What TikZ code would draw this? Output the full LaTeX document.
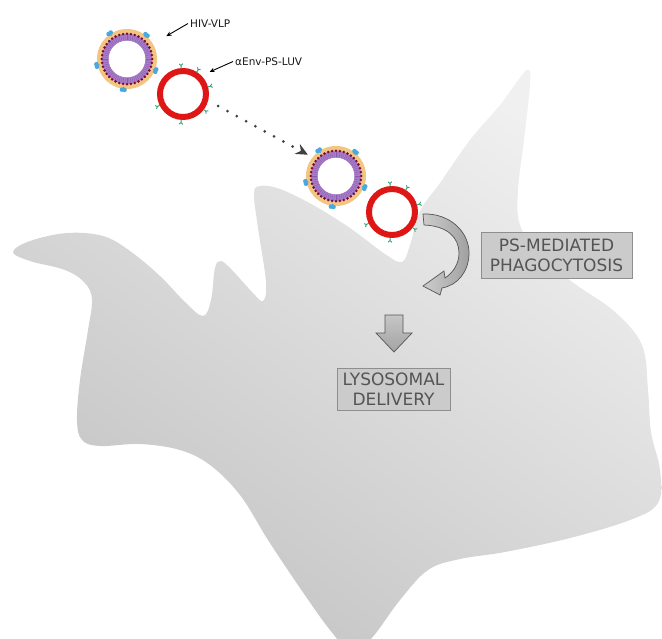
\documentclass[tikz,border=0pt]{standalone}
\usepackage{fontspec}
\setmainfont{DejaVu Sans}
\usepackage{tikz}
\usetikzlibrary{arrows.meta}

\definecolor{cellLight}{HTML}{F0F0F0}
\definecolor{cellDark}{HTML}{C3C3C3}
\definecolor{halo}{HTML}{F2C581}
\definecolor{lipid}{HTML}{A97FCB}
\definecolor{lipidDark}{HTML}{8A5CAE}
\definecolor{bead}{HTML}{7A0A2E}
\definecolor{envKnob}{HTML}{4AA7E0}
\definecolor{luvRed}{HTML}{DE1616}
\definecolor{antibody}{HTML}{2E9E72}
\definecolor{boxFill}{HTML}{CBCBCB}
\definecolor{boxLine}{HTML}{8E8E8E}
\definecolor{boxText}{HTML}{545454}
\definecolor{arrowLine}{HTML}{555555}

\begin{document}
\begin{tikzpicture}[x=1pt,y=-1pt,
    cell/.style={top color=cellLight,bottom color=cellDark,shading angle=-35},
    vlp/.style={circle,minimum size=60pt,inner sep=0pt,fill=halo},
    luv/.style={circle,minimum size=46pt,inner sep=0pt,draw=luvRed,line width=6pt,fill=white},
    vestag/.style={inner sep=2pt,anchor=west,text=black!90,font=\fontsize{10.5}{12}\selectfont},
    pointer/.style={-{Stealth[length=5pt,width=4.5pt]},line width=0.9pt},
    stage/.style={draw=boxLine,fill=boxFill,text=boxText,align=center,inner sep=0pt,font=\fontsize{17}{20}\selectfont},
    dotline/.style={line width=3pt,line cap=round,dash pattern=on 0pt off 10.6pt,draw=black!75,-{Stealth[length=12pt,width=11pt,inset=4pt]}},
    bigarrow/.style={draw=arrowLine,line width=0.7pt,top color=gray!45,bottom color=gray!72}]

    \useasboundingbox (0,0) rectangle (662,638);
    \clip (0,0) rectangle (662,638);

    \shade[cell] plot[smooth cycle,tension=0.6] coordinates {
        (13,252) (30,241) (67,233) (103,236) (130,251) (160,276) (185,302)
        (203,316) (211,300) (215,268) (221,261) (232,270) (252,292) (263,301)
        (266,282) (258,228) (254,194) (260,186) (280,189) (313,205) (350,228)
        (385,254) (402,262) (410,245) (420,211) (440,183) (470,140) (500,105)
        (522,75) (529,70) (530,85) (524,140) (518,190) (520,225) (540,256)
        (575,284) (615,312) (642,345) (648,390) (651,432) (660,470) (658,503)
        (630,520) (570,538) (505,552) (460,559) (428,570) (400,600) (370,640)
        (350,650) (330,630) (300,588) (268,540) (240,495) (210,465) (180,450)
        (140,444) (100,446) (82,440) (77,420) (80,380) (88,330) (92,300)
        (85,283) (65,270) (30,261)};

    \node[vlp] (vlp1) at (127,59) {};
    \node[vlp] (vlp2) at (336,176) {};
    \foreach \v in {vlp1,vlp2}{
        \draw[lipid,line width=7pt] (\v) circle (21.75pt);
        \foreach \a in {0,5,...,355}
            \draw[lipidDark,line width=0.4pt] (\v) ++(\a:19pt) -- ++(\a:5pt);
        \fill[white] (\v) circle (18.25pt);
        \foreach \a in {0,9,...,351}
            \fill[bead] (\v) ++(\a:25.2pt) circle (1.4pt);
        \foreach \a in {124,51,192,263,338}{
            \draw[envKnob,line width=1pt] (\v) ++(\a:28pt) -- ++(\a:2pt);
            \fill[envKnob] (\v) ++(\a:31pt) ++(\a+90:1.3pt) circle (2.3pt);
            \fill[envKnob] (\v) ++(\a:31pt) ++(\a-90:1.3pt) circle (2.3pt);
        }
    }

    \node[luv] (luv1) at (183,94) {};
    \node[luv] (luv2) at (392,212) {};
    \foreach \v in {luv1,luv2}
        \foreach \a in {94,58,16,-37,-94,-154}
            \draw[antibody,line width=0.9pt] (\v) ++(\a:25.5pt) -- ++(\a:3pt)
                -- ++(\a+45:2.6pt) ++(\a+225:2.6pt) -- ++(\a-45:2.6pt);

    \node[vestag] (hivtag) at (188,23.5) {HIV-VLP};
    \node[vestag] (envtag) at (233,61.5) {αEnv-PS-LUV};
    \draw[pointer,shorten >=45.6pt] (hivtag.west) -- (vlp1.center);
    \draw[pointer,shorten >=9pt] (envtag.west) -- (luv1.45);

    \draw[dotline,shorten <=40pt,shorten >=32pt] ([yshift=7pt]luv1.center) -- ([yshift=6pt]vlp2.center);

    \draw[bigarrow,left color=gray!40,right color=gray!75]
        (423,214) .. controls (450,213) and (470,232) .. (469,255)
        .. controls (468,272) and (458,285) .. (442,288) -- (440,295) -- (423,286)
        -- (444,271) -- (445,278) .. controls (454,272) and (459,263) .. (459,253)
        .. controls (459,238) and (448,226) .. (424,225) -- cycle;
    \node[stage,minimum width=151pt,minimum height=46pt] (phago) at (556.5,255) {PS-MEDIATED\\PHAGOCYTOSIS};

    \draw[bigarrow] (385,315) -- (403,315) -- (403,333) -- (412,333) -- (394,352)
        -- (376,333) -- (385,333) -- cycle;
    \node[stage,minimum width=113pt,minimum height=42pt] (lyso) at (393.5,389) {LYSOSOMAL\\DELIVERY};
\end{tikzpicture}
\end{document}
